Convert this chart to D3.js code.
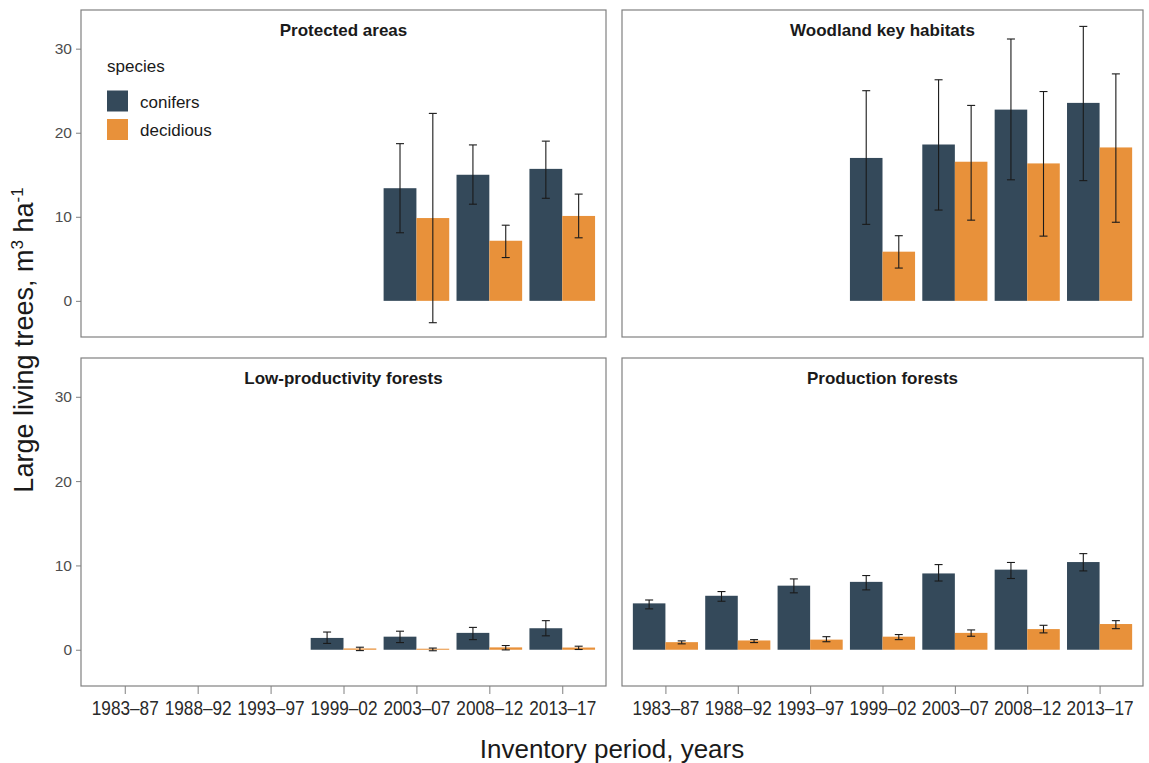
<!DOCTYPE html>
<html>
<head>
<meta charset="utf-8">
<script src="https://cdn.jsdelivr.net/npm/d3@7"></script>
<style>
  html, body { margin: 0; padding: 0; background: #fff; }
  svg { display: block; font-family: "Liberation Sans", Arial, sans-serif; }
</style>
</head>
<body>
<svg id="chart" width="1149" height="763"></svg>
<script>
// Inventory periods (x categories)
const periods = ["1983–87", "1988–92", "1993–97", "1999–02", "2003–07", "2008–12", "2013–17"];
const species = ["conifers", "decidious"];
const speciesColors = ["#34495A", "#E8913A"];
const yTicks = [0, 10, 20, 30];

// Large living trees, m³/ha, mean with lower/upper confidence bounds (null = not inventoried)
const protectedConifers     = [null, null, null, null, 13.4, 15.0, 15.7];
const protectedConifersLo   = [null, null, null, null, 8.1, 11.5, 12.2];
const protectedConifersHi   = [null, null, null, null, 18.7, 18.55, 19.0];
const protectedDeciduous    = [null, null, null, null, 9.85, 7.15, 10.1];
const protectedDeciduousLo  = [null, null, null, null, -2.6, 5.15, 7.5];
const protectedDeciduousHi  = [null, null, null, null, 22.3, 9.0, 12.7];

const wkhConifers     = [null, null, null, 17.0, 18.6, 22.75, 23.55];
const wkhConifersLo   = [null, null, null, 9.1, 10.8, 14.4, 14.3];
const wkhConifersHi   = [null, null, null, 25.0, 26.3, 31.15, 32.65];
const wkhDeciduous    = [null, null, null, 5.85, 16.55, 16.35, 18.25];
const wkhDeciduousLo  = [null, null, null, 3.9, 9.6, 7.7, 9.35];
const wkhDeciduousHi  = [null, null, null, 7.75, 23.25, 24.9, 27.0];

const lowProdConifers     = [null, null, null, 1.4, 1.55, 2.0, 2.55];
const lowProdConifersLo   = [null, null, null, 0.75, 0.85, 1.2, 1.65];
const lowProdConifersHi   = [null, null, null, 2.1, 2.2, 2.65, 3.45];
const lowProdDeciduous    = [null, null, null, 0.15, 0.12, 0.28, 0.26];
const lowProdDeciduousLo  = [null, null, null, -0.1, -0.12, -0.02, 0.03];
const lowProdDeciduousHi  = [null, null, null, 0.3, 0.2, 0.5, 0.42];

const prodConifers     = [5.5, 6.4, 7.6, 8.05, 9.05, 9.5, 10.4];
const prodConifersLo   = [4.85, 5.75, 6.75, 7.1, 8.15, 8.45, 9.35];
const prodConifersHi   = [5.9, 6.9, 8.4, 8.8, 10.1, 10.35, 11.4];
const prodDeciduous    = [0.9, 1.1, 1.2, 1.55, 2.0, 2.45, 3.05];
const prodDeciduousLo  = [0.7, 0.85, 0.95, 1.2, 1.6, 2.0, 2.5];
const prodDeciduousHi  = [1.05, 1.2, 1.55, 1.8, 2.35, 2.9, 3.45];

const panelTitles = ["Protected areas", "Woodland key habitats", "Low-productivity forests", "Production forests"];

const panelData = [
  [[protectedConifers, protectedConifersLo, protectedConifersHi], [protectedDeciduous, protectedDeciduousLo, protectedDeciduousHi]],
  [[wkhConifers, wkhConifersLo, wkhConifersHi], [wkhDeciduous, wkhDeciduousLo, wkhDeciduousHi]],
  [[lowProdConifers, lowProdConifersLo, lowProdConifersHi], [lowProdDeciduous, lowProdDeciduousLo, lowProdDeciduousHi]],
  [[prodConifers, prodConifersLo, prodConifersHi], [prodDeciduous, prodDeciduousLo, prodDeciduousHi]]
];

// Facet grid geometry
const cols = [{ x0: 81, x1: 606 }, { x0: 622, x1: 1143 }];
const rows = [{ y0: 10, y1: 337 }, { y0: 358, y1: 686 }];
const yDomain = [-4.3, 34.6];

const svg = d3.select("#chart");

panelTitles.forEach((title, p) => {
  const c = cols[p % 2], r = rows[Math.floor(p / 2)];
  const x = d3.scalePoint().domain(periods).range([c.x0, c.x1]).padding(0.6);
  const y = d3.scaleLinear().domain(yDomain).range([r.y1, r.y0]);
  const step = x.step();
  const barW = step * 0.45;
  const g = svg.append("g");

  // Bars and error bars
  species.forEach((sp, s) => {
    const [mean, lo, hi] = panelData[p][s];
    const rowsData = periods.map((per, i) => ({ per, v: mean[i], lo: lo[i], hi: hi[i] }))
      .filter(d => d.v !== null);
    const off = s === 0 ? -barW : 0;
    g.selectAll(null).data(rowsData).enter().append("rect")
      .attr("x", d => x(d.per) + off)
      .attr("width", barW)
      .attr("y", d => y(Math.max(0, d.v)))
      .attr("height", d => Math.abs(y(d.v) - y(0)))
      .attr("fill", speciesColors[s]);
    const eg = g.selectAll(null).data(rowsData).enter().append("g")
      .attr("stroke", "#1a1a1a").attr("stroke-width", 1.1);
    const cx = d => x(d.per) + off + barW / 2;
    eg.append("line").attr("x1", cx).attr("x2", cx)
      .attr("y1", d => y(d.lo)).attr("y2", d => y(d.hi));
    eg.append("line").attr("x1", d => cx(d) - 4).attr("x2", d => cx(d) + 4)
      .attr("y1", d => y(d.hi)).attr("y2", d => y(d.hi));
    eg.append("line").attr("x1", d => cx(d) - 4).attr("x2", d => cx(d) + 4)
      .attr("y1", d => y(d.lo)).attr("y2", d => y(d.lo));
  });

  // Panel border
  g.append("rect")
    .attr("x", c.x0).attr("y", r.y0)
    .attr("width", c.x1 - c.x0).attr("height", r.y1 - r.y0)
    .attr("fill", "none").attr("stroke", "#808080").attr("stroke-width", 1.2);

  // Facet title
  g.append("text")
    .attr("x", (c.x0 + c.x1) / 2).attr("y", r.y0 + 26)
    .attr("text-anchor", "middle")
    .attr("font-size", 17).attr("font-weight", "bold").attr("fill", "#1a1a1a")
    .text(title);

  // Y axis on the left column
  if (p % 2 === 0) {
    const yAxis = d3.axisLeft(y).tickValues(yTicks).tickSize(5).tickPadding(4);
    const ag = svg.append("g").attr("transform", `translate(${c.x0},0)`).call(yAxis);
    ag.select(".domain").remove();
    ag.selectAll(".tick line").attr("stroke", "#808080");
    ag.selectAll(".tick text").attr("font-size", 15.5).attr("fill", "#4d4d4d")
      .attr("font-family", "'Liberation Sans', Arial, sans-serif");
  }

  // X axis on the bottom row
  if (p >= 2) {
    const xAxis = d3.axisBottom(x).tickSize(8).tickPadding(7);
    const ag = svg.append("g").attr("transform", `translate(0,${r.y1})`).call(xAxis);
    ag.select(".domain").remove();
    ag.selectAll(".tick line").attr("stroke", "#808080");
    ag.selectAll(".tick text")
      .attr("font-size", 19.5).attr("fill", "#2a2a2a")
      .attr("font-family", "'Liberation Sans Narrow', 'Liberation Sans', Arial, sans-serif")
      .attr("textLength", 67).attr("lengthAdjust", "spacingAndGlyphs");
  }
});

// Legend inside the first panel
const legend = svg.append("g");
legend.append("text").attr("x", 107).attr("y", 72)
  .attr("font-size", 17).attr("fill", "#1a1a1a").text("species");
species.forEach((sp, s) => {
  const ky = 90.5 + s * 28.5;
  legend.append("rect").attr("x", 107).attr("y", ky).attr("width", 21).attr("height", 21)
    .attr("fill", speciesColors[s]);
  legend.append("text").attr("x", 140).attr("y", ky + 17)
    .attr("font-size", 17).attr("fill", "#1a1a1a").text(sp);
});

// Axis titles
svg.append("text")
  .attr("x", 612).attr("y", 758)
  .attr("text-anchor", "middle").attr("font-size", 26).attr("fill", "#1a1a1a")
  .text("Inventory period, years");

const yTitle = svg.append("text")
  .attr("transform", "translate(33,340) rotate(-90)")
  .attr("text-anchor", "middle").attr("font-size", 27).attr("fill", "#1a1a1a");
yTitle.append("tspan").text("Large living trees, m");
yTitle.append("tspan").attr("dy", -10).attr("font-size", 17).text("3");
yTitle.append("tspan").attr("dy", 10).text(" ha");
yTitle.append("tspan").attr("dy", -10).attr("font-size", 17).text("-1");
</script>
</body>
</html>
